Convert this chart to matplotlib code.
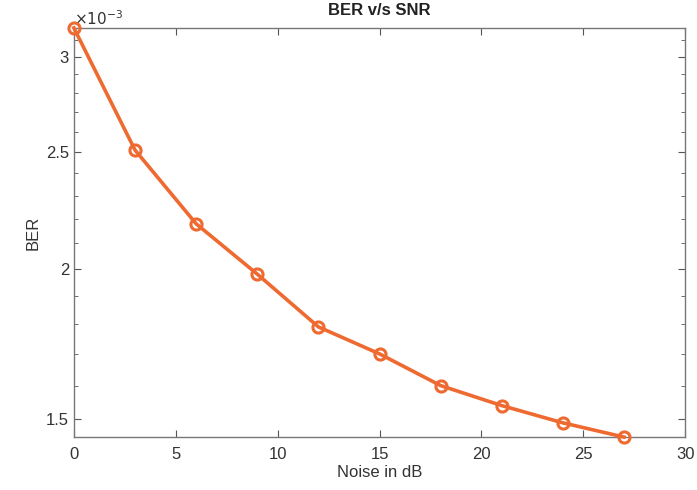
#!/usr/bin/env python3
"""BER vs noise level, semilog plot in MATLAB style."""

import matplotlib

matplotlib.use("Agg")
import matplotlib.pyplot as plt
from matplotlib.ticker import FixedLocator, NullFormatter

noise_db = [0, 3, 6, 9, 12, 15, 18, 21, 24, 27]
ber = [3.17e-3, 2.51e-3, 2.18e-3, 1.98e-3, 1.79e-3, 1.70e-3, 1.60e-3, 1.54e-3, 1.49e-3, 1.45e-3]

major_ticks = [1.5e-3, 2e-3, 2.5e-3, 3e-3]
major_labels = ["1.5", "2", "2.5", "3"]
minor_ticks = [v * 1e-4 for v in range(15, 32)]

plt.rcParams["font.family"] = ["Liberation Sans", "DejaVu Sans"]

fig = plt.figure(figsize=(6.97, 4.9), dpi=100)
ax = fig.add_axes([0.106, 0.108, 0.877, 0.835])

ax.semilogy(noise_db, ber, color="#EE6A30", linewidth=2.6, marker="o",
            markersize=8, markerfacecolor="none", markeredgewidth=2.2,
            clip_on=False, zorder=5)

ax.set_xlim(0, 30)
ax.set_ylim(1.45e-3, 3.17e-3)
ax.set_xticks([0, 5, 10, 15, 20, 25, 30])
ax.yaxis.set_major_locator(FixedLocator(major_ticks))
ax.set_yticklabels(major_labels)
ax.yaxis.set_minor_locator(FixedLocator(minor_ticks))
ax.yaxis.set_minor_formatter(NullFormatter())

ax.tick_params(which="both", direction="in", color="#555555", labelsize=12,
               labelcolor="#333333", top=True, right=True)
ax.tick_params(which="major", length=5)
ax.tick_params(which="minor", length=3)
ax.tick_params(axis="x", pad=7)
for s in ax.spines.values():
    s.set_color("#777777")
    s.set_linewidth(1.0)

ax.text(0.0, 1.0, r"$\times10^{-3}$", transform=ax.transAxes, fontsize=11,
        color="#333333", ha="left", va="bottom")

ax.set_xlabel("Noise in dB", fontsize=12, color="#333333", labelpad=2)
ax.set_ylabel("BER", fontsize=12, color="#333333")
ax.set_title("BER v/s SNR", fontsize=12, fontweight="bold", color="#222222", pad=9)

fig.savefig("out.png", dpi=100)
plt.close(fig)
